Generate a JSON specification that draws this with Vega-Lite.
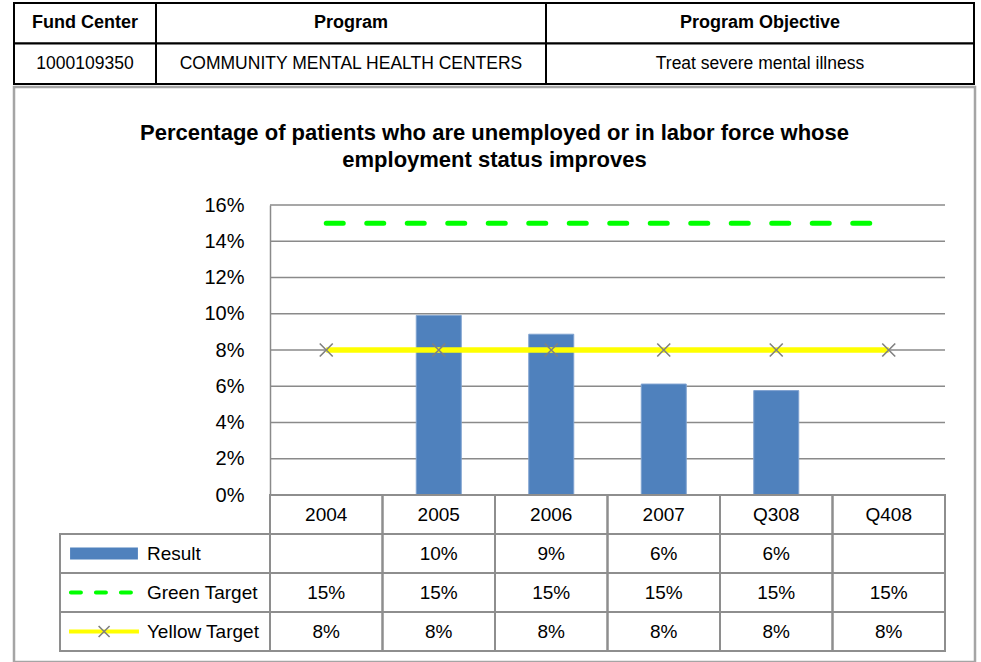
{
  "$schema": "https://vega.github.io/schema/vega-lite/v6.json",
  "padding": {"left": 12, "top": 2, "right": 0, "bottom": 0},
  "spacing": 0,
  "config": {"view": {"stroke": null}, "font": "Liberation Sans"},
  "datasets": {
    "header": [
      {"col": "Fund Center", "value": "1000109350"},
      {"col": "Program", "value": "COMMUNITY MENTAL HEALTH CENTERS"},
      {"col": "Program Objective", "value": "Treat severe mental illness"}
    ],
    "titleLines": [
      {"n": 1, "line": "Percentage of patients who are unemployed or in labor force whose"},
      {"n": 2, "line": "employment status improves"}
    ],
    "results": [
      {"period": "2004", "Result": null, "Green Target": 0.15, "Yellow Target": 0.08},
      {"period": "2005", "Result": 0.0991, "Green Target": 0.15, "Yellow Target": 0.08},
      {"period": "2006", "Result": 0.0887, "Green Target": 0.15, "Yellow Target": 0.08},
      {"period": "2007", "Result": 0.0612, "Green Target": 0.15, "Yellow Target": 0.08},
      {"period": "Q308", "Result": 0.0576, "Green Target": 0.15, "Yellow Target": 0.08},
      {"period": "Q408", "Result": null, "Green Target": 0.15, "Yellow Target": 0.08}
    ],
    "ticks": [{"v": 0}, {"v": 0.02}, {"v": 0.04}, {"v": 0.06}, {"v": 0.08}, {"v": 0.1}, {"v": 0.12}, {"v": 0.14}, {"v": 0.16}],
    "series": [{"series": "Result"}, {"series": "Green Target"}, {"series": "Yellow Target"}]
  },
  "vconcat": [
    {
      "spacing": 0,
      "bounds": "flush",
      "hconcat": [
        {
          "width": 142, "height": 81,
          "data": {"name": "header"},
          "transform": [{"filter": "datum.col === 'Fund Center'"}, {"fold": ["col", "value"], "as": ["row", "text"]}],
          "encoding": {"y": {"field": "row", "type": "nominal", "scale": {"domain": ["col", "value"], "paddingInner": 0, "paddingOuter": 0}, "axis": null}},
          "layer": [
            {"mark": {"type": "rect", "fill": "white", "stroke": "black", "strokeWidth": 2}},
            {"transform": [{"filter": "datum.row === 'col'"}], "mark": {"type": "text", "fontWeight": "bold", "fontSize": 18, "color": "black"}, "encoding": {"text": {"field": "text"}}},
            {"transform": [{"filter": "datum.row === 'value'"}], "mark": {"type": "text", "fontSize": 17.5, "color": "black"}, "encoding": {"text": {"field": "text"}}}
          ]
        },
        {
          "width": 390, "height": 81,
          "data": {"name": "header"},
          "transform": [{"filter": "datum.col === 'Program'"}, {"fold": ["col", "value"], "as": ["row", "text"]}],
          "encoding": {"y": {"field": "row", "type": "nominal", "scale": {"domain": ["col", "value"], "paddingInner": 0, "paddingOuter": 0}, "axis": null}},
          "layer": [
            {"mark": {"type": "rect", "fill": "white", "stroke": "black", "strokeWidth": 2}},
            {"transform": [{"filter": "datum.row === 'col'"}], "mark": {"type": "text", "fontWeight": "bold", "fontSize": 18, "color": "black"}, "encoding": {"text": {"field": "text"}}},
            {"transform": [{"filter": "datum.row === 'value'"}], "mark": {"type": "text", "fontSize": 17.5, "color": "black"}, "encoding": {"text": {"field": "text"}}}
          ]
        },
        {
          "width": 428, "height": 81,
          "data": {"name": "header"},
          "transform": [{"filter": "datum.col === 'Program Objective'"}, {"fold": ["col", "value"], "as": ["row", "text"]}],
          "encoding": {"y": {"field": "row", "type": "nominal", "scale": {"domain": ["col", "value"], "paddingInner": 0, "paddingOuter": 0}, "axis": null}},
          "layer": [
            {"mark": {"type": "rect", "fill": "white", "stroke": "black", "strokeWidth": 2}},
            {"transform": [{"filter": "datum.row === 'col'"}], "mark": {"type": "text", "fontWeight": "bold", "fontSize": 18, "color": "black"}, "encoding": {"text": {"field": "text"}}},
            {"transform": [{"filter": "datum.row === 'value'"}], "mark": {"type": "text", "fontSize": 17.5, "color": "black"}, "encoding": {"text": {"field": "text"}}}
          ]
        }
      ]
    },
    {
      "width": 961,
      "height": 575,
      "view": {"stroke": "#a5a5a5", "strokeWidth": 2.5},
      "resolve": {"scale": {"x": "independent", "y": "independent"}, "axis": {"x": "independent", "y": "independent"}},
      "layer": [
        {
          "data": {"name": "titleLines"},
          "mark": {"type": "text", "fontSize": 22, "fontWeight": "bold", "color": "black"},
          "encoding": {
            "y": {"field": "n", "type": "ordinal", "scale": {"type": "band", "domain": [1, 2], "range": [32.5, 86.5], "paddingInner": 0, "paddingOuter": 0}, "axis": null},
            "text": {"field": "line"}
          }
        },
        {
          "encoding": {
            "x": {"field": "period", "type": "nominal",
                  "scale": {"type": "band", "domain": ["2004", "2005", "2006", "2007", "Q308", "Q408"], "range": [256, 931], "paddingInner": 0, "paddingOuter": 0},
                  "axis": null}
          },
          "layer": [
            {
              "data": {"name": "ticks"},
              "mark": {"type": "rule", "color": "#8a8a8a", "strokeWidth": 1.5},
              "encoding": {
                "x": {"datum": "2004", "bandPosition": 0},
                "x2": {"datum": "Q408", "bandPosition": 1},
                "y": {"field": "v", "type": "quantitative",
                      "scale": {"domain": [0, 0.16], "range": [408, 118], "nice": false, "zero": true},
                      "axis": {"orient": "left", "offset": -256, "values": [0, 0.02, 0.04, 0.06, 0.08, 0.1, 0.12, 0.14, 0.16], "format": ".0%",
                               "grid": false, "ticks": false, "domain": true, "domainColor": "#8a8a8a", "domainWidth": 1.5,
                               "labelFontSize": 20, "labelColor": "black", "labelPadding": 26, "title": null}}
              }
            },
            {
              "data": {"name": "results"},
              "transform": [{"filter": "datum.Result != null"}],
              "mark": {"type": "bar", "width": {"band": 0.4}, "color": "#4F81BD", "stroke": "#7fa2d0", "strokeWidth": 1},
              "encoding": {"y": {"field": "Result", "type": "quantitative", "title": null}}
            },
            {
              "data": {"name": "results"},
              "mark": {"type": "line", "color": "#00FF00", "strokeWidth": 5, "strokeDash": [17, 23.5], "strokeCap": "round"},
              "encoding": {"y": {"field": "Green Target", "type": "quantitative", "title": null}}
            },
            {
              "data": {"name": "results"},
              "mark": {"type": "line", "color": "#FFFF00", "strokeWidth": 5.5},
              "encoding": {"y": {"field": "Yellow Target", "type": "quantitative", "title": null}}
            },
            {
              "data": {"name": "results"},
              "mark": {"type": "point", "shape": "M-1,-1L1,1M-1,1L1,-1", "size": 169, "filled": false, "stroke": "#808080", "strokeWidth": 1.6, "opacity": 1},
              "encoding": {"y": {"field": "Yellow Target", "type": "quantitative", "title": null}}
            }
          ]
        },
        {
          "data": {"name": "results"},
          "encoding": {
            "x": {"field": "period", "type": "nominal",
                  "scale": {"type": "band", "domain": ["2004", "2005", "2006", "2007", "Q308", "Q408"], "range": [256, 931], "paddingInner": 0, "paddingOuter": 0},
                  "axis": null}
          },
          "layer": [
            {
              "mark": {"type": "rect", "filled": false, "stroke": "#8e8e8e", "strokeWidth": 2},
              "encoding": {"y": {"datum": "period", "type": "nominal",
                                 "scale": {"type": "band", "domain": ["period", "Result", "Green Target", "Yellow Target"], "range": [408, 564], "paddingInner": 0, "paddingOuter": 0},
                                 "axis": null}}
            },
            {
              "mark": {"type": "text", "fontSize": 19, "color": "black"},
              "encoding": {"y": {"datum": "period", "type": "nominal"}, "text": {"field": "period"}}
            },
            {
              "transform": [{"fold": ["Result", "Green Target", "Yellow Target"], "as": ["series", "val"]}],
              "mark": {"type": "rect", "filled": false, "stroke": "#8e8e8e", "strokeWidth": 2},
              "encoding": {"y": {"field": "series", "type": "nominal"}}
            },
            {
              "transform": [{"fold": ["Result", "Green Target", "Yellow Target"], "as": ["series", "val"]}, {"filter": "datum.val != null"}],
              "mark": {"type": "text", "fontSize": 19, "color": "black"},
              "encoding": {"y": {"field": "series", "type": "nominal"}, "text": {"field": "val", "type": "quantitative", "format": ".0%"}}
            }
          ]
        },
        {
          "data": {"name": "series"},
          "encoding": {
            "y": {"field": "series", "type": "nominal",
                  "scale": {"type": "band", "domain": ["period", "Result", "Green Target", "Yellow Target"], "range": [408, 564], "paddingInner": 0, "paddingOuter": 0},
                  "axis": null}
          },
          "layer": [
            {
              "mark": {"type": "rect", "filled": false, "stroke": "#8e8e8e", "strokeWidth": 2},
              "encoding": {"x": {"datum": 0, "type": "quantitative", "scale": {"domain": [0, 1], "range": [46, 256]}, "axis": null}, "x2": {"datum": 1}}
            },
            {
              "mark": {"type": "text", "fontSize": 19, "align": "left", "color": "black"},
              "encoding": {"x": {"datum": 0.414, "type": "quantitative"}, "text": {"field": "series"}}
            },
            {
              "transform": [{"filter": "datum.series === 'Result'"}],
              "mark": {"type": "bar", "color": "#4F81BD", "height": {"band": 0.31}},
              "encoding": {"x": {"datum": 0.048, "type": "quantitative"}, "x2": {"datum": 0.371}}
            },
            {
              "transform": [{"filter": "datum.series === 'Green Target'"}],
              "mark": {"type": "rule", "color": "#00FF00", "strokeWidth": 4, "strokeDash": [10, 15], "strokeCap": "round"},
              "encoding": {"x": {"datum": 0.052, "type": "quantitative"}, "x2": {"datum": 0.338}}
            },
            {
              "transform": [{"filter": "datum.series === 'Yellow Target'"}],
              "mark": {"type": "rule", "color": "#FFFF00", "strokeWidth": 4},
              "encoding": {"x": {"datum": 0.043, "type": "quantitative"}, "x2": {"datum": 0.376}}
            },
            {
              "transform": [{"filter": "datum.series === 'Yellow Target'"}],
              "mark": {"type": "point", "shape": "M-1,-1L1,1M-1,1L1,-1", "size": 121, "filled": false, "stroke": "#808080", "strokeWidth": 1.6, "opacity": 1},
              "encoding": {"x": {"datum": 0.21, "type": "quantitative"}}
            }
          ]
        }
      ]
    }
  ]
}
